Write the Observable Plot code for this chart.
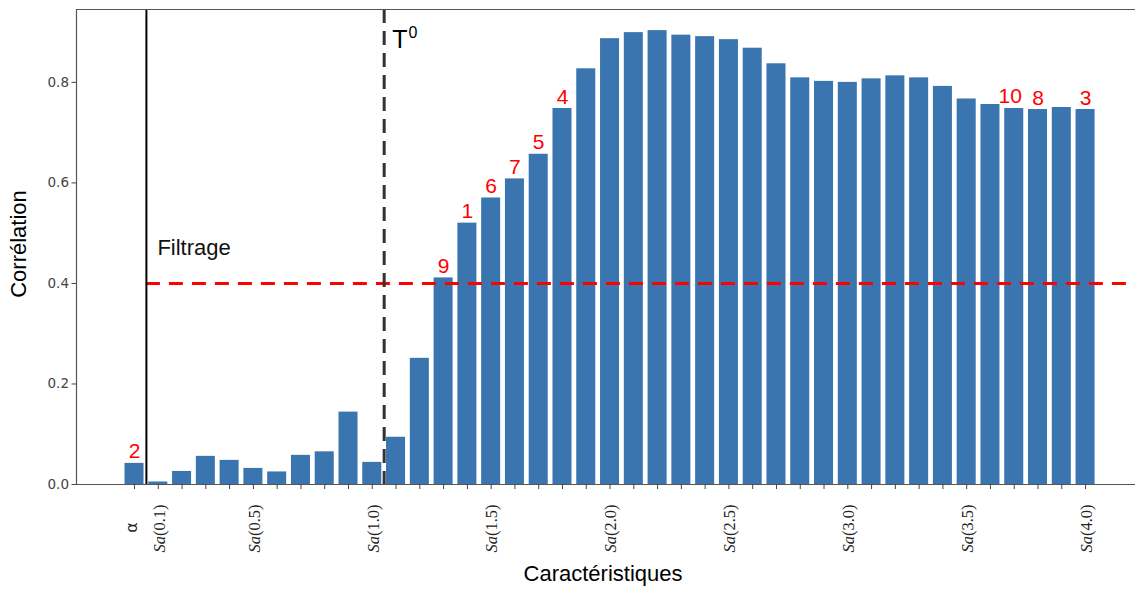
<!DOCTYPE html>
<html>
<head>
<meta charset="utf-8">
<script src="https://cdn.jsdelivr.net/npm/d3@7"></script>
<script src="https://cdn.jsdelivr.net/npm/@observablehq/plot@0.6"></script>
<style>
  html, body { margin: 0; padding: 0; background: #fff; }
  svg { display: block; }
</style>
</head>
<body>
<div id="chart"></div>
<script>
const categories = ["α",
  "Sa(0.1)","Sa(0.2)","Sa(0.3)","Sa(0.4)","Sa(0.5)","Sa(0.6)","Sa(0.7)","Sa(0.8)","Sa(0.9)","Sa(1.0)",
  "Sa(1.1)","Sa(1.2)","Sa(1.3)","Sa(1.4)","Sa(1.5)","Sa(1.6)","Sa(1.7)","Sa(1.8)","Sa(1.9)","Sa(2.0)",
  "Sa(2.1)","Sa(2.2)","Sa(2.3)","Sa(2.4)","Sa(2.5)","Sa(2.6)","Sa(2.7)","Sa(2.8)","Sa(2.9)","Sa(3.0)",
  "Sa(3.1)","Sa(3.2)","Sa(3.3)","Sa(3.4)","Sa(3.5)","Sa(3.6)","Sa(3.7)","Sa(3.8)","Sa(3.9)","Sa(4.0)"];

const correlations = [0.042,
  0.005, 0.026, 0.056, 0.048, 0.032, 0.025, 0.058, 0.065, 0.144, 0.044,
  0.094, 0.251, 0.411, 0.520, 0.570, 0.608, 0.657, 0.748, 0.827, 0.887,
  0.899, 0.903, 0.894, 0.891, 0.885, 0.868, 0.837, 0.809, 0.802, 0.800,
  0.807, 0.813, 0.809, 0.792, 0.767, 0.756, 0.748, 0.746, 0.750, 0.746];

const rankCategories = ["α", "Sa(1.3)", "Sa(1.4)", "Sa(1.5)", "Sa(1.6)", "Sa(1.7)", "Sa(1.8)", "Sa(3.7)", "Sa(3.8)", "Sa(4.0)"];
const rankLabels     = ["2",  "9",       "1",       "6",       "7",       "5",       "4",       "10",      "8",       "3"];

const tickLabelCategories = ["α", "Sa(0.1)", "Sa(0.5)", "Sa(1.0)", "Sa(1.5)", "Sa(2.0)", "Sa(2.5)", "Sa(3.0)", "Sa(3.5)", "Sa(4.0)"];
const yTicks = [0, 0.2, 0.4, 0.6, 0.8];

const threshold = 0.4;
const filterBetween = ["α", "Sa(0.1)"];
const t0Between = ["Sa(1.0)", "Sa(1.1)"];

// build tables
const idx = c => categories.indexOf(c);
const bars = categories.map((c, i) => ({category: c, i, value: correlations[i]}));
const ranks = rankCategories.map((c, k) => ({i: idx(c), value: correlations[idx(c)], label: rankLabels[k]}));
const tickLabels = tickLabelCategories.map(c => ({i: idx(c), label: c}));
const filterX = (idx(filterBetween[0]) + idx(filterBetween[1])) / 2;
const t0X = (idx(t0Between[0]) + idx(t0Between[1])) / 2;

const xMin = -2.44, xMax = 42.1, yMax = 0.945;
const spine = "#555";

const chart = Plot.plot({
  width: 1135,
  height: 590,
  marginLeft: 76,
  marginRight: 0,
  marginTop: 9,
  marginBottom: 106,
  style: {fontFamily: "'Liberation Sans', Arial, sans-serif", background: "#fff"},
  x: {type: "linear", domain: [xMin, xMax]},
  y: {domain: [0, yMax]},
  marks: [
    Plot.rectY(bars, {x1: d => d.i - 0.4, x2: d => d.i + 0.4, y: "value", fill: "#3a75b0"}),
    Plot.ruleY([threshold], {x1: filterX, x2: xMax, stroke: "#f00", strokeWidth: 3, strokeDasharray: "14,9"}),
    Plot.ruleX([filterX], {y1: 0, y2: yMax, stroke: "#000", strokeWidth: 2}),
    Plot.ruleX([t0X], {y1: yMax, y2: 0, stroke: "#333", strokeWidth: 3, strokeDasharray: "14,8"}),
    // spines
    Plot.ruleX([xMin], {y1: 0, y2: yMax, stroke: spine, strokeWidth: 1.2}),
    Plot.ruleY([0], {x1: xMin, x2: xMax, stroke: spine, strokeWidth: 1.2}),
    Plot.ruleY([yMax], {x1: xMin, x2: xMax, stroke: spine, strokeWidth: 1.2}),
    // axes
    Plot.axisY({ticks: yTicks, tickFormat: d3.format(".1f"), tickSize: 4.5, tickPadding: 3,
      fontSize: 13.5, fontFamily: "DejaVu Sans", color: "#444", label: null}),
    Plot.axisX({ticks: categories.map((c, i) => i), tickSize: 5, stroke: "#444", fill: "none", label: null}),
    Plot.text(tickLabels.filter(d => d.label !== "α"), {x: "i", text: "label", frameAnchor: "bottom", dy: 44, dx: 1, rotate: -90,
      textAnchor: "middle", lineAnchor: "middle", fontSize: 16.5, fontFamily: "'Liberation Serif', serif", fill: "#222"}),
    Plot.text(tickLabels.filter(d => d.label === "α"), {x: "i", text: "label", frameAnchor: "bottom", dy: 43, dx: -3, rotate: -90,
      textAnchor: "middle", lineAnchor: "middle", fontSize: 16, fontFamily: "DejaVu Sans", fill: "#222"}),
    // rank labels
    Plot.text(ranks.filter(d => d.label !== "10"), {x: "i", y: "value", text: "label", dy: -5, lineAnchor: "bottom", fill: "#f00", fontSize: 21}),
    Plot.text(ranks.filter(d => d.label === "10"), {x: "i", y: "value", text: "label", dx: -4, dy: -6, lineAnchor: "bottom", fill: "#f00", fontSize: 21}),
    // annotations
    Plot.text(["Filtrage"], {x: filterX, y: threshold, dx: 11, dy: -28, textAnchor: "start", lineAnchor: "bottom", fontSize: 22, fill: "#111"}),
    Plot.text(["T⁰"], {x: t0X, frameAnchor: "top", dx: 8, dy: 38, textAnchor: "start", lineAnchor: "bottom", fontSize: 25, fill: "#000"}),
    // axis titles
    Plot.text(["Corrélation"], {frameAnchor: "left", dx: -58, dy: -3, rotate: -90, textAnchor: "middle", lineAnchor: "middle", fontSize: 22, fill: "#000"}),
    Plot.text(["Caractéristiques"], {frameAnchor: "bottom", dx: -3, dy: 96, textAnchor: "middle", lineAnchor: "bottom", fontSize: 22, fill: "#000"})
  ]
});

// mixed styling: italic "Sa" and superscript 0
const ns = "http://www.w3.org/2000/svg";
chart.querySelectorAll("text").forEach(t => {
  const s = t.textContent;
  const m = s.match(/^Sa(\(.*\))$/);
  if (m && t.children.length === 0) {
    t.textContent = "";
    const it = document.createElementNS(ns, "tspan");
    it.setAttribute("font-style", "italic");
    it.textContent = "Sa";
    t.append(it, m[1]);
  } else if (s === "T⁰" && t.children.length === 0) {
    t.textContent = "T";
    const sup = document.createElementNS(ns, "tspan");
    sup.setAttribute("font-size", "16");
    sup.setAttribute("dy", "-10");
    sup.setAttribute("dx", "1");
    sup.textContent = "0";
    t.append(sup);
  }
});

document.getElementById("chart").appendChild(chart);
</script>
</body>
</html>
